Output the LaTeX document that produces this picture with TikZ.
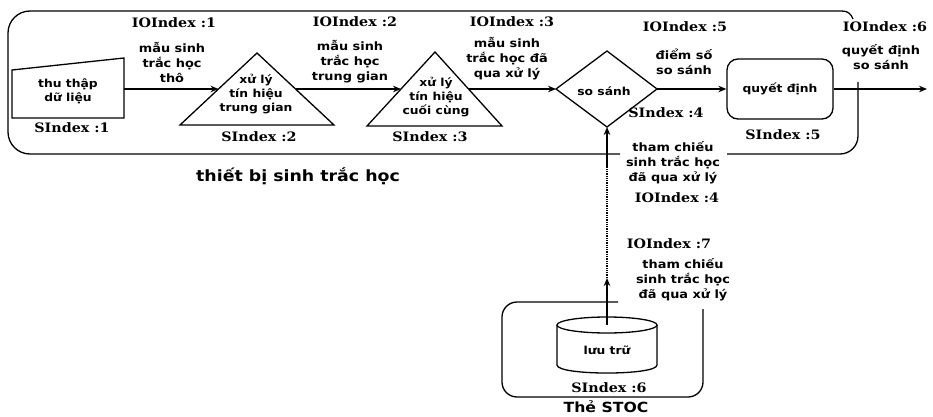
\documentclass[tikz,border=0pt]{standalone}
\usepackage{fontspec}
\setmainfont{DejaVu Sans}
\newfontfamily\lblfont[FakeStretch=1.12]{DejaVu Sans}
\newfontfamily\idxfont[FakeStretch=1.1]{DejaVu Serif}
\usetikzlibrary{arrows.meta,calc}
\begin{document}
\begin{tikzpicture}[x=1pt,y=-1pt,
  lbl/.style={font=\lblfont\bfseries\fontsize{11.5}{15}\selectfont,align=center,inner sep=0pt},
  intext/.style={font=\lblfont\bfseries\fontsize{11}{14}\selectfont,align=center,inner sep=0pt},
  idx/.style={font=\idxfont\bfseries\fontsize{13}{15}\selectfont,inner sep=0pt},
  big/.style={font=\lblfont\bfseries\fontsize{15.5}{18}\selectfont,inner sep=0pt},
  shp/.style={line width=1.3pt,line join=miter},
  conn/.style={line width=1.4pt,-{Stealth[length=8pt,width=6.5pt]}},
  frame/.style={line width=1.3pt},
]
\useasboundingbox (0,0) rectangle (933,417);

% --- frames ---
\draw[frame,rounded corners=22] (620,154) -- (8,154) -- (8,11) -- (842,11);
\draw[frame] (842,11) .. controls (848,11) and (851,14) .. (853,19);
\draw[frame,rounded corners=18] (727,154) -- (858,154) -- (858,82);
\draw[frame,rounded corners=15] (618,302) -- (502,302) -- (502,397) -- (703,397) -- (703,309);

% --- shapes ---
\draw[shp] (12,70) -- (124,58) -- (124,118) -- (12,118) -- cycle;
\node[intext] (acq) at (68,91) {thu thập\\dữ liệu};
\coordinate (acqout) at (124,89);

\draw[shp] (180,125) -- (257,53) -- (334,125) -- cycle;
\node[intext] (tri1) at (256,94) {xử lý\\tín hiệu\\trung gian};
\coordinate (t1in) at (218.5,89);
\coordinate (t1out) at (295.5,89);

\draw[shp] (367,126) -- (435,52) -- (502,126) -- cycle;
\node[intext] (tri2) at (436,97) {xử lý\\tín hiệu\\cuối cùng};
\coordinate (t2in) at (401,89);
\coordinate (t2out) at (468.5,89);

\coordinate (dl) at (556,89);
\coordinate (dt) at (607,51);
\coordinate (dr) at (657,89);
\coordinate (db) at (607,127);
\draw[shp] (dl) -- (dt) -- (dr) -- (db) -- cycle;
\node[intext] (cmp) at (604,91) {so sánh};

\node[draw,shp,rounded corners=11,minimum width=106,minimum height=60,intext] (dec) at (780,89) {quyết định};
\coordinate (outend) at (927,89);

% cylinder
\draw[shp] (557,325) -- (557,365) .. controls (557,375.7) and (657,375.7) .. (657,365) -- (657,325);
\draw[shp] (607,325) ellipse [x radius=50, y radius=8];
\node[intext] (store) at (607,350) {lưu trữ};
\coordinate (cyltop) at (607,325);
\coordinate (mid) at (607,278);
\coordinate (dotend) at (607,168);

% --- connectors ---
\draw[conn] (acqout) -- (t1in);
\draw[conn] (t1out) -- (t2in);
\draw[conn] (t2out) -- (dl);
\draw[conn] (dr) -- (dec.west);
\draw[conn] (dec.east) -- (outend);
\draw[conn] (cyltop) -- (mid);
\draw[line width=1.3pt,densely dotted] (mid) -- (dotend);
\draw[conn] (dotend) -- (db);

% --- labels ---
\node[idx] (io1) at (174,23) {IOIndex :1};
\node[idx] (io2) at (355,22) {IOIndex :2};
\node[idx] (io3) at (512,22) {IOIndex :3};
\node[idx] (io5) at (685,27) {IOIndex :5};
\node[idx] (io6) at (885,27) {IOIndex :6};
\node[idx] (io4) at (677,198) {IOIndex :4};
\node[idx] (io7) at (669,244) {IOIndex :7};

\node[idx] (s1) at (72,128) {SIndex :1};
\node[idx] (s2) at (259,137) {SIndex :2};
\node[idx] (s3) at (430,137) {SIndex :3};
\node[idx] (s4) at (666,113) {SIndex :4};
\node[idx] (s5) at (783,135) {SIndex :5};
\node[idx] (s6) at (609,388) {SIndex :6};

\node[lbl] (l1) at (172,62) {mẫu sinh\\trắc học\\thô};
\node[lbl] (l2) at (350,62) {mẫu sinh\\trắc học\\trung gian};
\node[lbl] (l3) at (507,59) {mẫu sinh\\trắc học đã\\qua xử lý};
\node[lbl] (l5) at (684,62) {điểm số\\so sánh};
\node[lbl] (l6) at (881,57) {quyết định\\so sánh};
\node[lbl] (l4) at (673,163) {tham chiếu\\sinh trắc học\\đã qua xử lý};
\node[lbl] (l7) at (683,280) {tham chiếu\\sinh trắc học\\đã qua xử lý};

\node[big] (dev) at (298,176) {thiết bị sinh trắc học};
\node[big,font=\lblfont\bfseries\fontsize{14}{16}\selectfont] (card) at (606,406.5) {Thẻ STOC};
\end{tikzpicture}
\end{document}
